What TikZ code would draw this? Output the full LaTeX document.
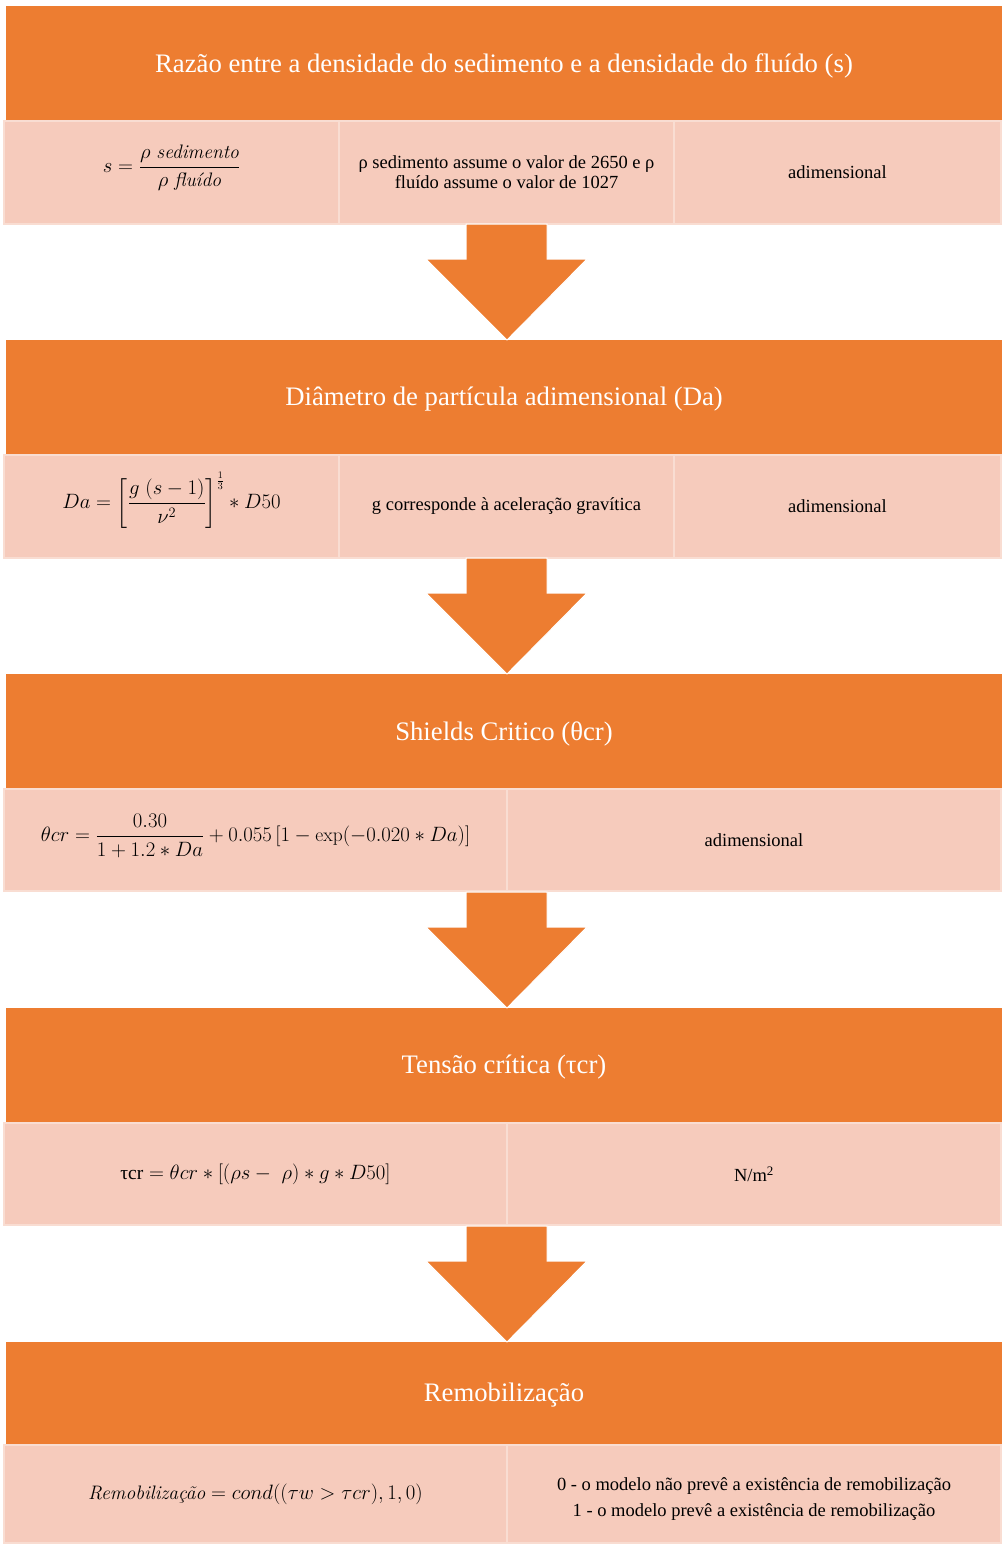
\documentclass[tikz,border=0pt]{standalone}
\usepackage{amsmath}
\usepackage{fontspec}
\newfontfamily\tnr{Liberation Serif}
\usetikzlibrary{calc}
\definecolor{hdrorange}{HTML}{ED7D31}
\definecolor{cellpink}{HTML}{F6CBBC}
\definecolor{cellline}{HTML}{F9DDD2}
\newcommand{\shiftv}[2]{\raisebox{#1}[\height][\depth]{#2}}
\tikzset{
  hdr/.style={fill=hdrorange, draw=none, text=white, inner sep=0pt,
    font=\tnr\fontsize{26.7}{30}\selectfont},
  cell/.style={fill=cellpink, draw=cellline, line width=2pt, inner sep=0pt, text=black,
    align=center, font=\tnr\fontsize{18.5}{20}\selectfont},
  mathcell/.style={cell, font=\fontsize{19.5}{22}\selectfont},
  blockarr/.style={fill=hdrorange, draw=white, line width=1pt, line join=miter}
}
\newcommand{\bigarr}[2]{%
  \path[blockarr] (466,#1) -- (547,#1) -- (547,#1+35) -- (587,#1+35) -- (507,#2)
    -- (426,#1+35) -- (466,#1+35) -- cycle;}
\begin{document}
\begin{tikzpicture}[x=1pt,y=-1pt]
\useasboundingbox[fill=white] (0,0) rectangle (1001,1544);

% Block 1
\node[hdr, minimum width=996pt, minimum height=115pt] (h1) at (504,63.5)
  {\shiftv{-2pt}{Razão entre a densidade do sedimento e a densidade do fluído (s)}};
\node[mathcell, minimum width=335pt, minimum height=103pt] (c11) at (171.5,172.5)
  {\shiftv{5pt}{$\displaystyle s=\frac{\rho\ \textit{sedimento}}{\rho\ \textit{fluído}}$}};
\node[cell, minimum width=335pt, minimum height=103pt] (c12) at (506.5,172.5)
  {ρ sedimento assume o valor de 2650 e ρ\\fluído assume o valor de 1027};
\node[cell, minimum width=327pt, minimum height=103pt] (c13) at (837.5,172.5)
  {adimensional};

% Block 2
\node[hdr, minimum width=996pt, minimum height=115pt] (h2) at (504,397.5)
  {\shiftv{-2pt}{Diâmetro de partícula adimensional (Da)}};
\node[mathcell, minimum width=335pt, minimum height=103pt] (c21) at (171.5,506.5)
  {\shiftv{6pt}{$\displaystyle Da=\left[\frac{g\ (s-1)}{\nu^{2}}\right]^{\frac{1}{3}}\ast D50$}};
\node[cell, minimum width=335pt, minimum height=103pt] (c22) at (506.5,506.5)
  {g corresponde à aceleração gravítica};
\node[cell, minimum width=327pt, minimum height=103pt] (c23) at (837.5,506.5)
  {adimensional};

% Block 3
\node[hdr, minimum width=996pt, minimum height=115pt] (h3) at (504,731.5)
  {\shiftv{-2pt}{Shields Critico (θcr)}};
\node[mathcell, minimum width=503pt, minimum height=102pt] (c31) at (255.5,840)
  {\shiftv{4pt}{$\displaystyle \theta cr=\frac{0.30}{1+1.2\ast Da}+0.055\,[1-\exp(-0.020\ast Da)]$}};
\node[cell, minimum width=494pt, minimum height=102pt] (c32) at (754,840)
  {adimensional};

% Block 4
\node[hdr, minimum width=996pt, minimum height=115pt] (h4) at (504,1065.5)
  {\shiftv{-2pt}{Tensão crítica (τcr)}};
\node[mathcell, minimum width=503pt, minimum height=102pt] (c41) at (255.5,1174)
  {$\mbox{\tnr τcr}=\theta cr\ast[(\rho s-\ \rho)\ast g\ast D50]$};
\node[cell, minimum width=494pt, minimum height=102pt] (c42) at (754,1174)
  {N/m\textsuperscript{2}};

% Block 5
\node[hdr, minimum width=996pt, minimum height=103pt] (h5) at (504,1393.5)
  {\shiftv{-2pt}{Remobilização}};
\node[mathcell, minimum width=503pt, minimum height=98pt] (c51) at (255.5,1494)
  {$\textit{Remobilização}=cond((\tau w>\tau cr),1,0)$};
\node[cell, minimum width=494pt, minimum height=98pt] (c52) at (754,1494)
  {\shiftv{-5pt}{\begin{tabular}{@{}c@{}}0 - o modelo não prevê a existência de remobilização\\[6pt]1 - o modelo prevê a existência de remobilização\end{tabular}}};

% Arrows
\bigarr{224}{340}
\bigarr{558}{674}
\bigarr{892}{1008}
\bigarr{1226}{1342}
\end{tikzpicture}
\end{document}
